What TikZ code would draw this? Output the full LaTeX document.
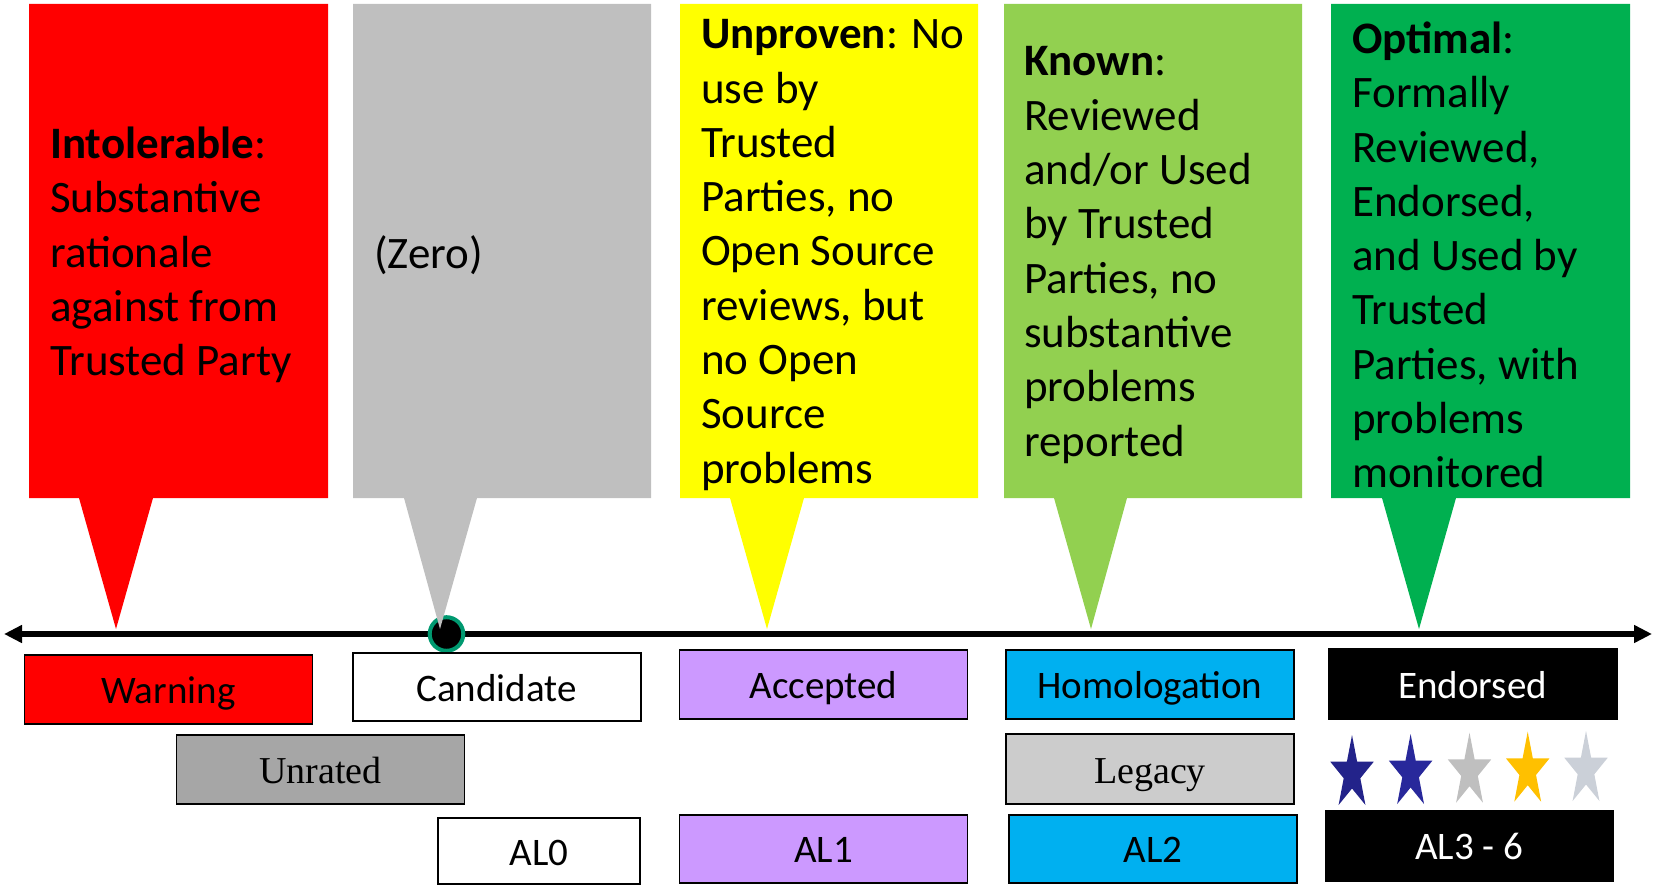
\documentclass[tikz,border=0pt]{standalone}
\usepackage{fontspec}
\setmainfont{Carlito}
\newfontfamily\serifface{Liberation Serif}
\usetikzlibrary{arrows.meta}

\definecolor{cRed}{RGB}{255,0,0}
\definecolor{cGray}{RGB}{191,191,191}
\definecolor{cYellow}{RGB}{255,255,0}
\definecolor{cLime}{RGB}{146,208,80}
\definecolor{cGreen}{RGB}{0,176,80}
\definecolor{cPurple}{RGB}{204,153,255}
\definecolor{cBlue}{RGB}{0,176,240}
\definecolor{cDarkGray}{RGB}{166,166,166}
\definecolor{cLightGray}{RGB}{204,204,204}
\definecolor{cRing}{RGB}{0,153,112}
\definecolor{sNavyA}{RGB}{35,35,138}
\definecolor{sNavyB}{RGB}{40,40,155}
\definecolor{sGray}{RGB}{191,191,191}
\definecolor{sGold}{RGB}{255,192,0}
\definecolor{sPale}{RGB}{203,208,216}

% five-pointed star, squeezed horizontally: centre x, centre y, colour
\newcommand\ratingstar[3]{%
  \fill[#3, xshift=#1pt, yshift=-#2pt, x=0.59pt, y=1pt]
    (90:38.7) -- (126:14.8) -- (162:38.7) -- (198:14.8) -- (234:38.7)
    -- (270:14.8) -- (306:38.7) -- (342:14.8) -- (18:38.7) -- (54:14.8) -- cycle;}

% speech-bubble callout: left, right, tail left, tail right, tip x, colour
\newcommand\callout[6]{%
  \fill[#6] (#1,4) -- (#2,4) -- (#2,498) -- (#4,498) -- (#5,629)
    -- (#3,498) -- (#1,498) -- cycle;}

\begin{document}
\begin{tikzpicture}[x=1pt,y=-1pt,
  tag/.style={draw=black, line width=1.8pt, minimum width=288pt,
    minimum height=69pt, inner sep=0pt, outer sep=0pt,
    text height=28pt, text depth=0pt,
    font=\fontsize{39}{46}\selectfont},
  calltext/.style={anchor=west, align=left, inner sep=0pt,
    font=\fontsize{45}{54.3}\selectfont},
  axisline/.style={line width=6pt,
    {Triangle[length=18pt,width=17pt]}-{Triangle[length=18pt,width=17pt]}},
]
\useasboundingbox (0,0) rectangle (1654,885);

% scale axis with the zero marker
\coordinate (axL) at (4,634);
\coordinate (axR) at (1652,634);
\draw[axisline] (axL) -- (axR);
\node[circle, fill=black, draw=cRing, line width=4pt, minimum size=33.6pt,
  inner sep=0pt] (zero) at (446.5,634) {};

% callouts above the axis
\callout{29}{328}{79}{153}{116}{cRed}
\callout{353}{651}{404}{477}{440}{cGray}
\callout{680}{978}{730}{804}{767}{cYellow}
\callout{1004}{1302}{1054}{1127}{1091}{cLime}
\callout{1331}{1630}{1382}{1456}{1419}{cGreen}

\node[calltext] (tIntol) at (50,255)
  {\textbf{Intolerable}:\\Substantive\\rationale\\against from\\Trusted Party};
\node[calltext] (tZero) at (374,255) {(Zero)};
\node[calltext] (tUnpr) at (701,255)
  {\textbf{Unproven}: No\\use by\\Trusted\\Parties, no\\Open Source\\reviews, but\\no Open\\Source\\problems};
\node[calltext] (tKnown) at (1024,255)
  {\textbf{Known}:\\Reviewed\\and/or Used\\by Trusted\\Parties, no\\substantive\\problems\\reported};
\node[calltext] (tOpt) at (1352,255)
  {\textbf{Optimal}:\\Formally\\Reviewed,\\Endorsed,\\and Used by\\Trusted\\Parties, with\\problems\\monitored};

% labels below the axis
\node[tag, fill=cRed] (warning) at (168.5,689.5) {Warning};
\node[tag, fill=white, minimum height=68pt] (candidate) at (496.6,687) {Candidate};
\node[tag, fill=cDarkGray, font=\serifface\fontsize{38}{46}\selectfont] (unrated) at (320.4,769.2) {Unrated};
\node[tag, fill=white, minimum width=202pt, minimum height=66pt] (al0) at (539.3,851) {AL0};

\node[tag, fill=cPurple] (accepted) at (823.5,684.3) {Accepted};
\node[tag, fill=cPurple, minimum height=68pt] (al1) at (823.5,848.8) {AL1};

\node[tag, fill=cBlue] (homol) at (1150,684.3) {Homologation};
\node[tag, fill=cLightGray, minimum height=70pt, font=\serifface\fontsize{38}{46}\selectfont] (legacy) at (1150,769) {Legacy};
\node[tag, fill=cBlue, minimum height=68pt] (al2) at (1152.8,848.8) {AL2};

\node[tag, fill=black, text=white, minimum height=70pt] (endorsed) at (1472.6,684) {Endorsed};
\node[tag, fill=black, text=white, minimum height=69.7pt] (al36) at (1469.4,845.8) {AL3 - 6};

% rating stars
\ratingstar{1352}{773.7}{sNavyA}
\ratingstar{1410.6}{772.7}{sNavyB}
\ratingstar{1469.5}{771.4}{sGray}
\ratingstar{1527.7}{770.4}{sGold}
\ratingstar{1586}{769.7}{sPale}
\end{tikzpicture}
\end{document}
